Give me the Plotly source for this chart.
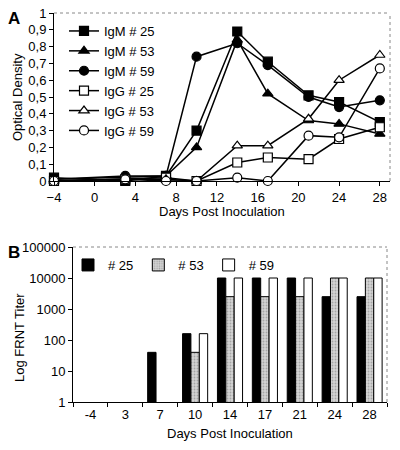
import plotly.graph_objects as go

# ---------------- Panel A data ----------------
days_a = [-4, 3, 7, 10, 14, 17, 21, 24, 28]
igm25 = [0.02, 0.00, 0.03, 0.30, 0.89, 0.71, 0.51, 0.47, 0.35]
igm53 = [0.01, 0.02, 0.03, 0.20, 0.84, 0.52, 0.36, 0.34, 0.28]
igm59 = [0.01, 0.03, 0.03, 0.74, 0.82, 0.69, 0.50, 0.44, 0.48]
igg25 = [0.00, 0.01, 0.02, 0.00, 0.11, 0.14, 0.13, 0.25, 0.32]
igg53 = [0.00, 0.01, 0.01, 0.00, 0.21, 0.21, 0.37, 0.60, 0.75]
igg59 = [0.00, 0.01, 0.00, 0.00, 0.02, 0.00, 0.27, 0.26, 0.67]
a_yticks = [0, 0.1, 0.2, 0.3, 0.4, 0.5, 0.6, 0.7, 0.8, 0.9, 1.0]
a_yticktext = ["0", "0,1", "0,2", "0,3", "0,4", "0,5", "0,6", "0,7", "0,8", "0,9", "1"]
a_xticks = [-4, 0, 4, 8, 12, 16, 20, 24, 28]

# ---------------- Panel B data ----------------
days_b = ["-4", "3", "7", "10", "14", "17", "21", "24", "28"]
frnt25 = [None, None, 40, 160, 10000, 10000, 10000, 2500, 2500]
frnt53 = [None, None, None, 40, 2500, 2500, 2500, 10000, 10000]
frnt59 = [None, None, None, 160, 10000, 10000, 10000, 10000, 10000]
b_yticks = [1, 10, 100, 1000, 10000, 100000]
b_yticktext = ["1", "10", "100", "1000", "10000", "100000"]

FONT = "Liberation Sans, Arial, sans-serif"
fig = go.Figure()

series_a = [
    ("IgM # 25", igm25, "square", "black"),
    ("IgM # 53", igm53, "triangle-up", "black"),
    ("IgM # 59", igm59, "circle", "black"),
    ("IgG # 25", igg25, "square", "white"),
    ("IgG # 53", igg53, "triangle-up", "white"),
    ("IgG # 59", igg59, "circle", "white"),
]
for name, vals, sym, fill in series_a:
    fig.add_trace(go.Scatter(
        x=days_a, y=vals, name=name, mode="lines+markers",
        line=dict(color="black", width=1.5),
        marker=dict(symbol=sym, size=9, color=fill, line=dict(color="black", width=1.2)),
        cliponaxis=False, xaxis="x", yaxis="y", legend="legend",
    ))

fig.add_trace(go.Bar(x=days_b, y=frnt25, name="# 25", marker=dict(color="black", line=dict(color="black", width=1)),
                     xaxis="x2", yaxis="y2", legend="legend2"))
fig.add_trace(go.Bar(x=days_b, y=frnt53, name="# 53",
                     marker=dict(color="#d4d4d4", line=dict(color="black", width=1),
                                 pattern=dict(shape=".", bgcolor="#d4d4d4", fgcolor="#777777", size=3, solidity=0.3)),
                     xaxis="x2", yaxis="y2", legend="legend2"))
fig.add_trace(go.Bar(x=days_b, y=frnt59, name="# 59", marker=dict(color="white", line=dict(color="black", width=1)),
                     xaxis="x2", yaxis="y2", legend="legend2"))

W, H = 400, 450
ax_common = dict(showline=True, linecolor="black", linewidth=1, ticks="outside", ticklen=4,
                 tickcolor="black", showgrid=False, zeroline=False,
                 tickfont=dict(family=FONT, size=13, color="black"), automargin=False)

fig.update_layout(
    width=W, height=H, margin=dict(l=0, r=0, t=0, b=0),
    paper_bgcolor="white", plot_bgcolor="white",
    font=dict(family=FONT, size=13, color="black"),
    hovermode=False, barmode="group", bargap=0.28, bargroupgap=0,
    xaxis=dict(domain=[54/W, 390/W], range=[-4, 29], tickvals=a_xticks, anchor="y", **ax_common),
    yaxis=dict(domain=[1-181/H, 1-13/H], range=[0, 1], tickvals=a_yticks, ticktext=a_yticktext,
               anchor="x", **ax_common),
    xaxis2=dict(domain=[73/W, 387/W], type="category", tickson="boundaries", anchor="y2", **ax_common),
    yaxis2=dict(domain=[1-402/H, 1-247/H], type="log", range=[0, 5], tickvals=b_yticks,
                ticktext=b_yticktext, anchor="x2", **ax_common),
    legend=dict(x=64/W, y=1-16/H, xanchor="left", yanchor="top", bgcolor="rgba(0,0,0,0)",
                font=dict(family=FONT, size=13), itemwidth=30, tracegroupgap=0),
    legend2=dict(x=68/W, y=1-250/H, xanchor="left", yanchor="top", orientation="h",
                 bgcolor="rgba(0,0,0,0)", font=dict(family=FONT, size=13), itemwidth=30),
)

# dotted top/right borders
for (x0, x1, y0, y1) in [(54/W, 390/W, 1-181/H, 1-13/H), (73/W, 387/W, 1-402/H, 1-247/H)]:
    fig.add_shape(type="line", xref="paper", yref="paper", x0=x0, x1=x1, y0=y1, y1=y1,
                  line=dict(color="#888888", width=1, dash="dot"))
    fig.add_shape(type="line", xref="paper", yref="paper", x0=x1, x1=x1, y0=y0, y1=y1,
                  line=dict(color="#888888", width=1, dash="dot"))

ann = [
    dict(text="<b>A</b>", x=14/W, y=1-18/H, size=17, angle=0),
    dict(text="<b>B</b>", x=14/W, y=1-252/H, size=17, angle=0),
    dict(text="Optical Density", x=18/W, y=1-97/H, size=13, angle=-90),
    dict(text="Log FRNT Titer", x=19/W, y=1-338/H, size=13, angle=-90),
    dict(text="Days Post Inoculation", x=222/W, y=1-211/H, size=13, angle=0),
    dict(text="Days Post Inoculation", x=230/W, y=1-433/H, size=13, angle=0),
]
for a in ann:
    fig.add_annotation(text=a["text"], x=a["x"], y=a["y"], xref="paper", yref="paper",
                       showarrow=False, textangle=a["angle"], xanchor="center", yanchor="middle",
                       font=dict(family=FONT, size=a["size"], color="black"))

fig.write_html("out.html", config={"displayModeBar": False, "staticPlot": True},
               post_script="document.body.style.margin='0';document.body.style.padding='0';")
